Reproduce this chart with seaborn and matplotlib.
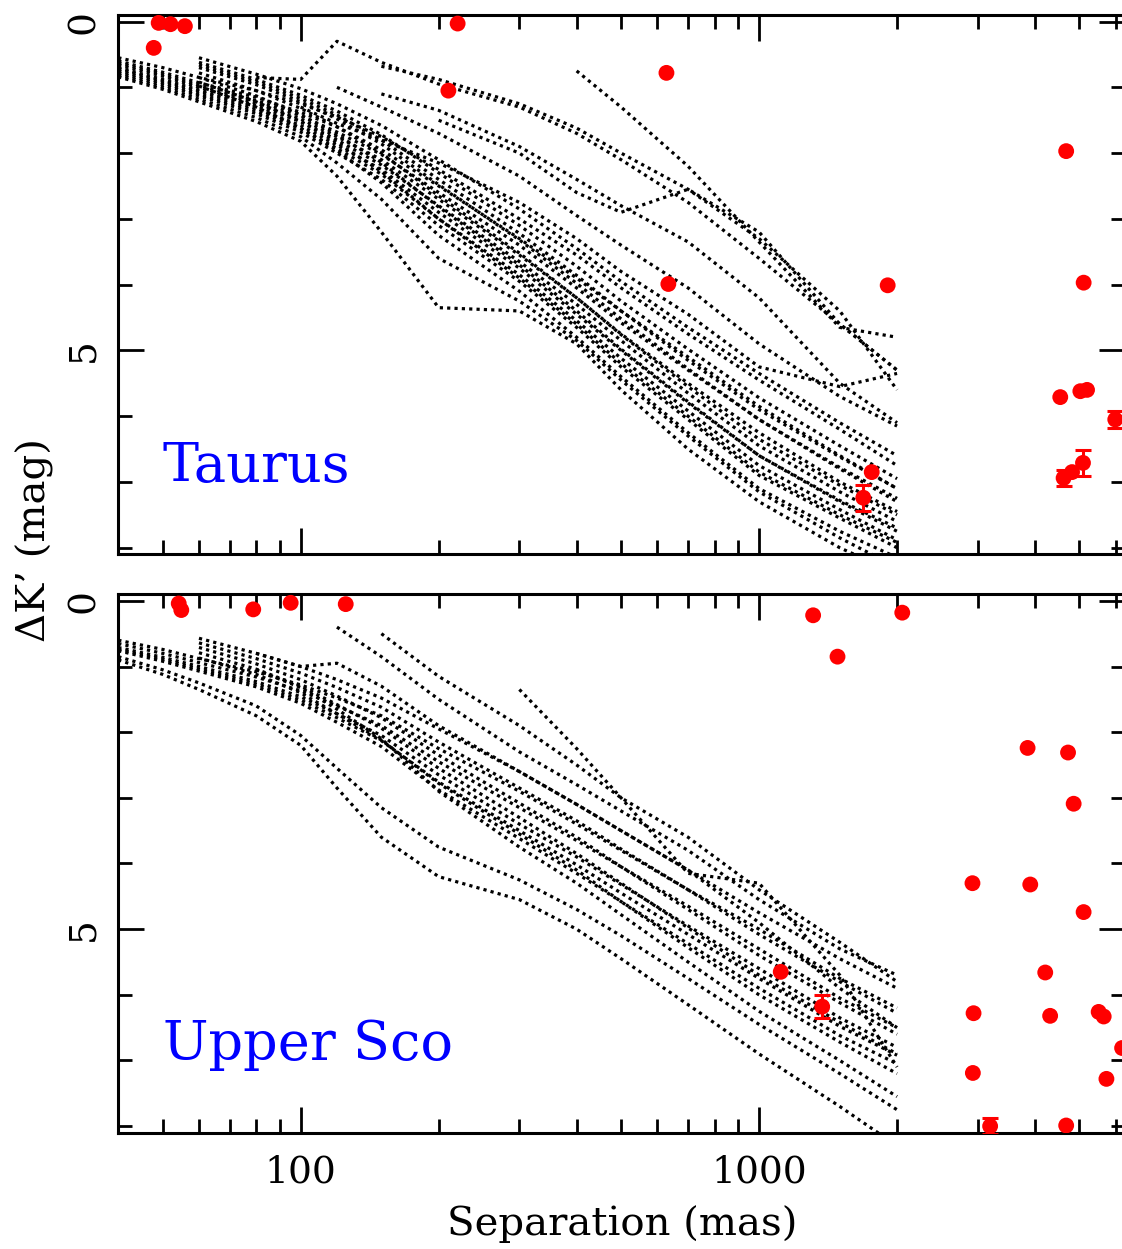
import numpy as np
import pandas as pd
import matplotlib
matplotlib.use("Agg")
import matplotlib.pyplot as plt
import matplotlib.ticker as mticker
import seaborn as sns

nan = np.nan

sep_grid = [40, 50, 60, 80, 100, 120, 150, 200, 300, 400, 500, 700, 1000, 1500, 2000]

# Taurus contrast curves (delta K', mag), one list per target
taurus_curves = [
    [0.55, 0.70, 0.85, 1.05, 1.25, 1.45, 1.75, 2.25, 3.00, 3.55, 4.05, 4.75, 5.45, 6.20, 6.75],
    [0.60, 0.77, 0.93, 1.15, 1.38, 1.60, 1.95, 2.50, 3.30, 3.90, 4.40, 5.10, 5.85, 6.60, 7.10],
    [0.66, 0.83, 1.00, 1.24, 1.48, 1.75, 2.10, 2.70, 3.55, 4.20, 4.75, 5.50, 6.25, 7.00, 7.45],
    [0.72, 0.90, 1.06, 1.32, 1.58, 1.88, 2.25, 2.90, 3.75, 4.45, 5.00, 5.80, 6.60, 7.30, 7.75],
    [0.78, 0.96, 1.13, 1.40, 1.68, 2.00, 2.40, 3.10, 3.95, 4.65, 5.25, 6.05, 6.90, 7.55, 8.00],
    [0.84, 1.03, 1.22, 1.52, 1.82, 2.35, 3.20, 4.35, 4.40, 4.90, 5.60, 6.50, 7.30, 8.00, 8.40],
    [0.70, 0.88, 1.04, 1.28, 1.52, 1.80, 2.18, 2.80, 3.65, 4.30, 4.85, 5.65, 6.45, 7.15, 7.60],
    [0.63, 0.80, 0.97, 1.20, 1.43, 1.68, 2.02, 2.60, 3.40, 4.05, 4.58, 5.30, 6.05, 6.80, 7.30],
    [0.75, 0.93, 1.10, 1.36, 1.63, 1.93, 2.32, 3.00, 3.85, 4.55, 5.12, 5.92, 6.75, 7.42, 7.88],
    [0.81, 1.00, 1.18, 1.46, 1.75, 2.15, 2.70, 3.60, 4.25, 4.85, 5.45, 6.30, 7.15, 7.85, 8.30],
    [nan, nan, 0.55, 0.80, 1.02, 1.25, 1.58, 2.10, 2.85, 3.45, 3.95, 4.65, 5.35, 6.10, 6.60],
    [nan, nan, 0.62, 0.88, 1.12, 1.36, 1.72, 2.30, 3.10, 3.72, 4.25, 4.98, 5.72, 6.45, 6.95],
    [nan, nan, 0.70, 0.96, 1.22, 1.48, 1.86, 2.48, 3.32, 3.98, 4.52, 5.28, 6.05, 6.78, 7.25],
    [nan, nan, 0.78, 1.05, 1.32, 1.60, 2.00, 2.65, 3.52, 4.20, 4.76, 5.55, 6.35, 7.05, 7.50],
    [nan, nan, 0.85, 1.13, 1.42, 1.72, 2.14, 2.82, 3.70, 4.40, 4.98, 5.78, 6.60, 7.28, 7.70],
    [nan, nan, 0.92, 1.22, 1.52, 1.84, 2.28, 3.00, 3.90, 4.60, 5.20, 6.00, 6.85, 7.50, 7.92],
    [nan, nan, 0.98, 1.30, 1.62, 1.96, 2.45, 3.25, 4.10, 4.80, 5.40, 6.25, 7.10, 7.75, 8.15],
    [nan, nan, 0.66, 0.92, 1.17, 1.42, 1.80, 2.40, 3.22, 3.86, 4.40, 5.15, 5.90, 6.62, 7.10],
    [nan, nan, nan, 0.85, 0.88, 0.30, 0.62, 0.95, 1.30, 1.70, 2.10, 2.75, 3.60, 4.60, 5.30],
    [nan, nan, nan, nan, nan, nan, 0.68, 0.88, 1.25, 1.62, 2.00, 2.55, 3.30, 4.40, 5.60],
    [nan, nan, nan, nan, nan, nan, nan, nan, nan, 0.75, 1.30, 2.20, 3.35, 4.65, 4.80],
    [nan, nan, nan, nan, nan, nan, nan, 1.50, 2.00, 2.60, 2.90, 2.55, 3.20, 4.60, 5.30],
    [nan, nan, nan, nan, nan, nan, 1.10, 1.35, 1.90, 2.40, 2.80, 3.35, 4.20, 5.50, 6.10],
    [nan, nan, nan, nan, nan, 1.00, 1.30, 1.70, 2.35, 2.95, 3.40, 4.05, 4.90, 5.70, 6.15],
    [nan, nan, nan, nan, 1.30, 1.55, 1.80, 2.15, 2.75, 3.30, 3.80, 4.45, 5.25, 5.55, 5.35],
]

# Upper Sco contrast curves
usco_curves = [
    [0.60, 0.74, 0.88, 1.08, 1.28, 1.48, 1.75, 2.25, 2.90, 3.40, 3.80, 4.40, 5.00, 5.75, 6.20],
    [0.65, 0.80, 0.94, 1.16, 1.37, 1.60, 1.90, 2.45, 3.15, 3.65, 4.05, 4.65, 5.30, 6.05, 6.50],
    [0.71, 0.86, 1.00, 1.23, 1.46, 1.72, 2.05, 2.65, 3.40, 3.90, 4.32, 4.95, 5.60, 6.35, 6.80],
    [0.76, 0.92, 1.07, 1.31, 1.56, 1.85, 2.22, 2.88, 3.62, 4.15, 4.58, 5.22, 5.90, 6.62, 7.05],
    [0.85, 1.05, 1.25, 1.60, 2.05, 2.55, 3.15, 3.75, 4.25, 4.70, 5.10, 5.75, 6.45, 7.20, 7.75],
    [0.90, 1.12, 1.35, 1.75, 2.20, 2.85, 3.60, 4.20, 4.55, 5.00, 5.45, 6.15, 6.90, 7.70, 8.30],
    [0.74, 0.89, 1.04, 1.27, 1.51, 1.78, 2.13, 2.76, 3.50, 4.02, 4.45, 5.08, 5.75, 6.48, 6.92],
    [nan, nan, 0.57, 0.80, 1.00, 1.20, 1.48, 1.95, 2.60, 3.10, 3.50, 4.10, 4.75, 5.45, 5.90],
    [nan, nan, 0.64, 0.88, 1.10, 1.32, 1.62, 2.15, 2.85, 3.35, 3.78, 4.40, 5.08, 5.80, 6.28],
    [nan, nan, 0.71, 0.96, 1.20, 1.45, 1.78, 2.35, 3.08, 3.60, 4.05, 4.70, 5.40, 6.12, 6.60],
    [nan, nan, 0.79, 1.04, 1.30, 1.58, 1.94, 2.55, 3.30, 3.85, 4.30, 4.98, 5.70, 6.42, 6.90],
    [nan, nan, 0.87, 1.12, 1.40, 1.72, 2.12, 2.78, 3.55, 4.10, 4.58, 5.28, 6.00, 6.72, 7.20],
    [nan, nan, nan, 1.05, 1.32, 1.65, 2.10, 2.90, 3.75, 4.30, 4.78, 5.50, 6.25, 7.00, 7.55],
    [nan, nan, nan, nan, nan, 0.40, 0.85, 1.50, 2.30, 2.80, 3.20, 3.80, 4.55, 5.30, 5.70],
    [nan, nan, nan, nan, nan, nan, 0.50, 1.15, 1.90, 2.50, 3.00, 3.60, 4.40, 5.20, 5.80],
    [nan, nan, nan, nan, nan, nan, nan, nan, 1.35, 2.25, 3.00, 4.15, 4.30, 5.70, 7.10],
    [nan, nan, nan, 0.80, 1.00, 0.95, 1.30, 1.90, 2.60, 3.10, 3.50, 4.10, 4.90, 5.90, 6.50],
]

# detected companions (separation mas, delta K' mag)
taurus_sep = [47.8, 49.0, 52.0, 55.9, 220, 210, 628, 634, 4677, 1908, 5106,
              4540, 5022, 5194, 5985, 1761, 1688, 4617, 4817, 5089]
taurus_dk = [0.40, 0.02, 0.04, 0.07, 0.03, 1.05, 0.78, 3.99, 1.97, 4.01, 3.97,
             5.71, 5.62, 5.60, 6.05, 6.85, 7.24, 6.94, 6.85, 6.71]
taurus_err_sep = [5985, 1688, 4617, 5089]
taurus_err_dk = [6.05, 7.24, 6.94, 6.71]
taurus_err = [0.13, 0.20, 0.12, 0.20]

usco_sep = [54.2, 54.9, 78.8, 95.1, 125.4, 1312, 1483, 2053, 3853, 4721, 4856,
            2921, 3905, 5105, 1115, 1373, 4210, 2937, 4315, 5506, 5647, 6194,
            2927, 5725, 3192, 4677]
usco_dk = [0.04, 0.14, 0.13, 0.03, 0.05, 0.22, 0.85, 0.18, 2.24, 2.31, 3.09,
           4.30, 4.32, 4.74, 5.65, 6.18, 5.66, 6.28, 6.32, 6.26, 6.33, 6.81,
           7.19, 7.28, 8.00, 7.99]
usco_err_sep = [1373, 3192]
usco_err_dk = [6.18, 8.00]
usco_err = [0.17, 0.12]


def curves_frame(curves):
    rows = []
    for i, c in enumerate(curves):
        for s, v in zip(sep_grid, c):
            if not np.isnan(v):
                rows.append((i, s, v))
    return pd.DataFrame(rows, columns=["curve", "sep", "dk"])


sns.set_style("ticks", {"axes.grid": False, "axes.edgecolor": "black",
                        "text.color": "black", "axes.labelcolor": "black",
                        "xtick.color": "black", "ytick.color": "black"})
plt.rcParams["font.family"] = ["DejaVu Serif"]

fig = plt.figure(figsize=(11.22, 12.49), dpi=100)
ax_top = fig.add_axes([0.1054, 0.5562, 0.8977, 0.4318])
ax_bot = fig.add_axes([0.1054, 0.0931, 0.8977, 0.4311])

panels = [
    (ax_top, taurus_curves, taurus_sep, taurus_dk,
     taurus_err_sep, taurus_err_dk, taurus_err, "Taurus"),
    (ax_bot, usco_curves, usco_sep, usco_dk,
     usco_err_sep, usco_err_dk, usco_err, "Upper Sco"),
]

for ax, curves, sx, sy, ex, ey, ee, name in panels:
    ax.set_xscale("log")
    sns.lineplot(data=curves_frame(curves), x="sep", y="dk", units="curve",
                 estimator=None, sort=False, color="black", linewidth=2.3,
                 linestyle=(0, (1, 1.3)), legend=False, ax=ax)
    ax.errorbar(ex, ey, yerr=ee, fmt="none", ecolor="red", elinewidth=2.2,
                capsize=6, capthick=2.2, zorder=4)
    sns.scatterplot(x=sx, y=sy, color="red", s=130, edgecolor="none",
                    zorder=5, ax=ax)

    ax.set_xlim(40, 6300)
    ax.set_ylim(8.1, -0.1)
    ax.text(50, 7.0, name, color="blue", fontsize=39, ha="left",
            va="baseline", family="DejaVu Serif")

    ax.xaxis.set_major_locator(mticker.FixedLocator([100, 1000]))
    ax.xaxis.set_minor_locator(mticker.LogLocator(base=10, subs=np.arange(2, 10)))
    ax.xaxis.set_major_formatter(mticker.FuncFormatter(lambda v, p: "%g" % v))
    ax.xaxis.set_minor_formatter(mticker.NullFormatter())
    ax.yaxis.set_major_locator(mticker.FixedLocator([0, 5]))
    ax.yaxis.set_minor_locator(mticker.MultipleLocator(1))

    ax.tick_params(which="both", direction="in", top=True, right=True,
                   width=2, color="black", labelcolor="black")
    ax.tick_params(which="major", length=19)
    ax.tick_params(which="minor", length=10)
    ax.tick_params(axis="x", labelsize=27, pad=16)
    ax.tick_params(axis="y", labelsize=27, pad=12, labelrotation=90)
    for lab in ax.get_yticklabels():
        lab.set_va("center")
    for sp in ax.spines.values():
        sp.set_linewidth(2.2)
    ax.set_xlabel("")
    ax.set_ylabel("")

ax_top.tick_params(axis="x", labelbottom=False)
ax_bot.set_xlabel("Separation (mas)", fontsize=29, labelpad=10, color="black")
fig.text(0.031, 1 - 540 / 1249, "ΔK’ (mag)", rotation=90, fontsize=29,
         ha="center", va="center", color="black")

fig.savefig("out.png", dpi=100)
